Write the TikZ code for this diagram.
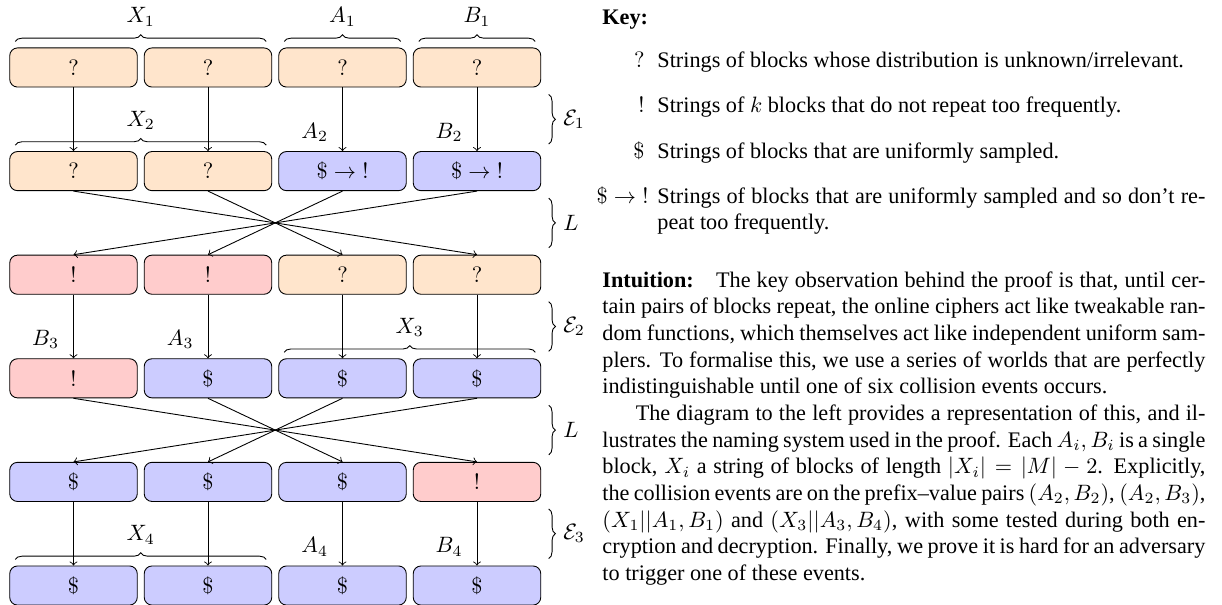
\documentclass[tikz,border=0pt]{standalone}
\usepackage[no-math]{fontspec}
\setmainfont{Liberation Serif}
\usetikzlibrary{calc,positioning,decorations.pathreplacing}
\tikzset{qmark/.style={fill=orange!20,node contents={$?$}},bang/.style={fill=red!20,node contents={$!$}},
dollar/.style={fill=blue!20,node contents={$\$$}},dollarbang/.style={fill=blue!20,node contents={$\$\rightarrow{!}$}}}

\begin{document}
\begin{tikzpicture}[x=0.45pt, y=-0.45pt]

\tikzset{block/.style={draw,rounded corners=3.5pt,minimum width=57.4pt,minimum height=17.6pt,inner sep=0pt},
curly/.style={decorate,decoration={brace,amplitude=3pt}},
keytext/.style={anchor=base west,inner sep=0pt,align=justify}}

\useasboundingbox (0,0) rectangle (1222,605);

% Blocks, one row per line
\foreach \row/\col/\kind in {1/1/qmark, 1/2/qmark, 1/3/qmark, 1/4/qmark,
  2/1/qmark, 2/2/qmark, 2/3/dollarbang, 2/4/dollarbang,
  3/1/bang, 3/2/bang, 3/3/qmark, 3/4/qmark,
  4/1/bang, 4/2/dollar, 4/3/dollar, 4/4/dollar,
  5/1/dollar, 5/2/dollar, 5/3/dollar, 5/4/bang,
  6/1/dollar, 6/2/dollar, 6/3/dollar, 6/4/dollar}
  \node (b\row\col) at ({73.5+134.5*(\col-1)},{67.5+103.6*(\row-1)}) [block,\kind];

% Straight arrows (E layers)
\foreach \row/\next in {1/2, 3/4, 5/6} \foreach \col in {1,2,3,4} \draw[->] (b\row\col.south) -- (b\next\col.north);

% Reversal (L layers)
\foreach \row/\next in {2/3, 4/5} \foreach \col/\rev in {1/4, 2/3, 3/2, 4/1} \draw[->] (b\row\col.south) -- (b\next\rev.north);

% Braces over strings of blocks
\draw[curly] ($(b11.north west)+(6,-6)$) -- ($(b12.north east)+(-6,-6)$) node[midway,above=3.4pt] (x1) {$X_1$};
\draw[curly] ($(b13.north west)+(6,-6)$) -- ($(b13.north east)+(-6,-6)$) node[midway,above=3.4pt] (a1) {$A_1$};
\draw[curly] ($(b14.north west)+(6,-6)$) -- ($(b14.north east)+(-6,-6)$) node[midway,above=3.4pt] (b1) {$B_1$};
\draw[curly] ($(b21.north west)+(6,-6)$) -- ($(b22.north east)+(-6,-6)$) node[midway,above=3.4pt] (x2) {$X_2$};
\draw[curly] ($(b43.north west)+(6,-6)$) -- ($(b44.north east)+(-6,-6)$) node[midway,above=3.4pt] (x3) {$X_3$};
\draw[curly] ($(b61.north west)+(6,-6)$) -- ($(b62.north east)+(-6,-6)$) node[midway,above=3.4pt] (x4) {$X_4$};

% Single block labels
\node[above left=0.7pt and 3pt of b23.north] (a2) {$A_2$};
\node[above left=0.7pt and 3pt of b24.north] (b2) {$B_2$};
\node[above left=0.7pt and 3pt of b41.north] (b3) {$B_3$};
\node[above left=0.7pt and 3pt of b42.north] (a3) {$A_3$};
\node[above left=0.7pt and 3pt of b63.north] (a4) {$A_4$};
\node[above left=0.7pt and 3pt of b64.north] (b4) {$B_4$};

% Layer braces on the right
\foreach \row/\next/\lbl in {1/2/{\mathcal{E}_1}, 2/3/L, 3/4/{\mathcal{E}_2}, 4/5/L, 5/6/{\mathcal{E}_3}}
  \draw[curly] ($(b\row4.south east)+(7.5,7)$) -- ($(b\next4.north east)+(7.5,-7)$) node[midway,right=3pt] (layer\row) {$\lbl$};

% Key
\node[anchor=base west,inner sep=0pt,font=\bfseries] (keyhead) at (602,25) {Key:};
\node[anchor=base east,inner sep=0pt] (sym1) at (645,68) {$?$};
\node[anchor=base east,inner sep=0pt] (sym2) at (645,113) {$!$};
\node[anchor=base east,inner sep=0pt] (sym3) at (645,158) {$\$$};
\node[anchor=base east,inner sep=0pt] (sym4) at (649,203) {$\$\rightarrow{!}$};
\node[keytext,text width=246.6pt] (key1) at (657,68) {Strings of blocks whose distribution is unknown/irrelevant.};
\node[keytext,text width=246.6pt] (key2) at (657,113) {Strings of $k$ blocks that do not repeat too frequently.};
\node[keytext,text width=246.6pt] (key3) at (657,158) {Strings of blocks that are uniformly sampled.};
\node[keytext,text width=246.6pt] (key4) at (657,203) {Strings of blocks that are uniformly sampled and so don’t re-\linebreak peat too frequently.};

% Intuition
\node[keytext,text width=271.35pt] (intuition) at (602,287) {\textbf{Intuition:}\hspace{1em}The key observation behind the proof is that, until cer-\linebreak
tain pairs of blocks repeat, the online ciphers act like tweakable ran-\linebreak
dom functions, which themselves act like independent uniform sam-\linebreak
plers. To formalise this, we use a series of worlds that are perfectly\linebreak
indistinguishable until one of six collision events occurs.\par
\hspace*{15pt}The diagram to the left provides a representation of this, and il-\linebreak
lustrates the naming system used in the proof. Each $A_i, B_i$ is a single\linebreak
block, $X_i$ a string of blocks of length $|X_i| = |M| - 2$. Explicitly,\linebreak
the collision events are on the prefix–value pairs $(A_2, B_2)$, $(A_2, B_3)$,\linebreak
$(X_1||A_1, B_1)$ and $(X_3||A_3, B_4)$, with some tested during both en-\linebreak
cryption and decryption. Finally, we prove it is hard for an adversary\linebreak
to trigger one of these events.};

\end{tikzpicture}
\end{document}
